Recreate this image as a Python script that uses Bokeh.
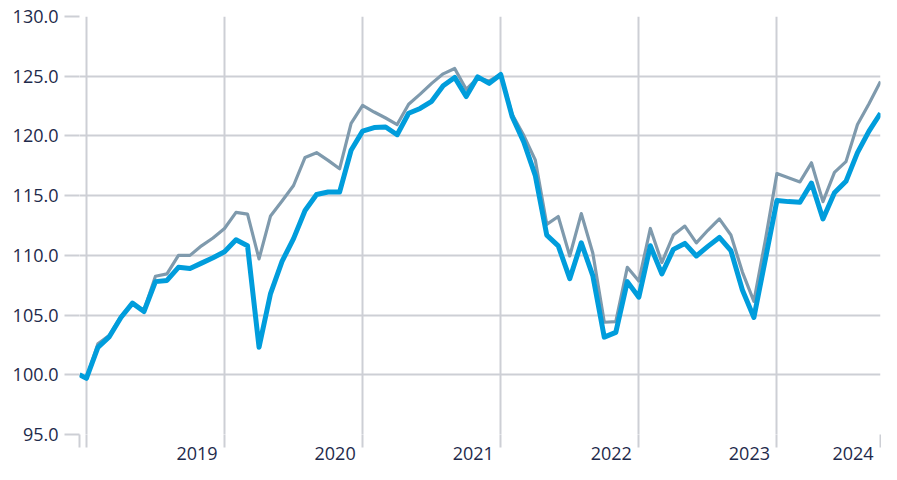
from bokeh.plotting import figure
from bokeh.models import FixedTicker, Range1d, ColumnDataSource
from bokeh.embed import file_html
from bokeh.resources import INLINE

# month index: first point is the base just before the end of 2018, then month ends Dec 2018 .. Sep 2024
month_idx = [-0.6] + list(range(0, 70))

blue_vals = [100.0, 99.7, 102.3, 103.2, 104.8, 106.0, 105.3, 107.8, 107.9, 109.0, 108.9,
             109.35, 109.8, 110.3, 111.3, 110.8, 102.3, 106.8, 109.5, 111.4, 113.75,
             115.1, 115.3, 115.3, 118.8, 120.4, 120.7, 120.75, 120.1, 121.9, 122.3,
             122.9, 124.2, 124.9, 123.3, 124.95, 124.4, 125.15, 121.6, 119.5, 116.7,
             111.7, 110.8, 108.05, 111.05, 108.3, 103.15, 103.55, 107.8, 106.5, 110.8,
             108.45, 110.5, 111.0, 109.95, 110.75, 111.5, 110.4, 107.1, 104.8, 109.7,
             114.6, 114.5, 114.45, 116.05, 113.05, 115.25, 116.2, 118.6, 120.4, 121.9]

grey_vals = [100.0, 99.7, 102.6, 103.3, 104.9, 106.0, 105.4, 108.25, 108.45, 110.0, 110.0,
             110.8, 111.45, 112.25, 113.6, 113.45, 109.7, 113.3, 114.55, 115.85, 118.2,
             118.6, 117.95, 117.25, 121.05, 122.55, 122.0, 121.5, 120.95, 122.65, 123.5,
             124.4, 125.2, 125.65, 123.9, 124.85, 124.6, 125.15, 121.8, 120.05, 118.0,
             112.6, 113.25, 109.95, 113.5, 110.2, 104.4, 104.45, 109.0, 107.85, 112.25,
             109.4, 111.7, 112.45, 111.05, 112.1, 113.05, 111.7, 108.6, 106.15, 111.3,
             116.85, 116.5, 116.15, 117.75, 114.5, 116.95, 117.85, 120.95, 122.7, 124.55]

grid_ticks = [-0.6, 0, 12, 24, 36, 48, 60, 69]
year_label_pos = [9.61, 21.61, 33.61, 45.61, 57.61, 66.61]
year_labels = ["2019", "2020", "2021", "2022", "2023", "2024"]
y_ticks = [95, 100, 105, 110, 115, 120, 125, 130]

GRID = "#cdcfd5"
TEXT = "#1e2a4b"
FONT = "Open Sans"
FSIZE = "18px"

src = ColumnDataSource(dict(x=month_idx, blue=blue_vals, grey=grey_vals))

p = figure(width=881, height=464, output_backend="svg", toolbar_location=None,
           x_range=Range1d(-0.6, 69), y_range=Range1d(95, 130),
           min_border_left=79, min_border_right=1, min_border_top=16, min_border_bottom=30)
p.outline_line_color = None
p.background_fill_color = "white"
p.border_fill_color = "white"

p.line("x", "grey", source=src, line_color="#7f9aad", line_width=3.2, line_join="round")
p.line("x", "blue", source=src, line_color="#009ddc", line_width=5, line_join="round")

# grids
p.xgrid.ticker = FixedTicker(ticks=grid_ticks)
p.xgrid.grid_line_color = GRID
p.xgrid.grid_line_width = 2
p.ygrid.ticker = FixedTicker(ticks=y_ticks)
p.ygrid.grid_line_color = GRID
p.ygrid.grid_line_width = 2

# x axis: labels at major ticks, tick marks at minor ticks (grid positions)
xa = p.xaxis[0]
xa.ticker = FixedTicker(ticks=year_label_pos, minor_ticks=grid_ticks)
xa.major_label_overrides = {pos: lab for pos, lab in zip(year_label_pos, year_labels)}
xa.major_tick_line_color = None
xa.major_tick_out = 0
xa.major_tick_in = 0
xa.minor_tick_line_color = GRID
xa.minor_tick_line_width = 2
xa.minor_tick_out = 13
xa.minor_tick_in = 0
xa.axis_line_color = None
xa.major_label_standoff = -1
xa.major_label_text_font = FONT
xa.major_label_text_font_size = FSIZE
xa.major_label_text_line_height = 1.0
xa.major_label_text_color = TEXT

ya = p.yaxis[0]
ya.ticker = FixedTicker(ticks=y_ticks)
ya.major_label_overrides = {t: f"{t:.1f}" for t in y_ticks}
ya.major_tick_line_color = GRID
ya.major_tick_line_width = 2
ya.major_tick_out = 15
ya.major_tick_in = 0
ya.minor_tick_line_color = None
ya.axis_line_color = None
ya.major_label_standoff = 6
ya.major_label_text_font = FONT
ya.major_label_text_font_size = FSIZE
ya.major_label_text_color = TEXT

open("out.html", "w").write(file_html(p, INLINE))
